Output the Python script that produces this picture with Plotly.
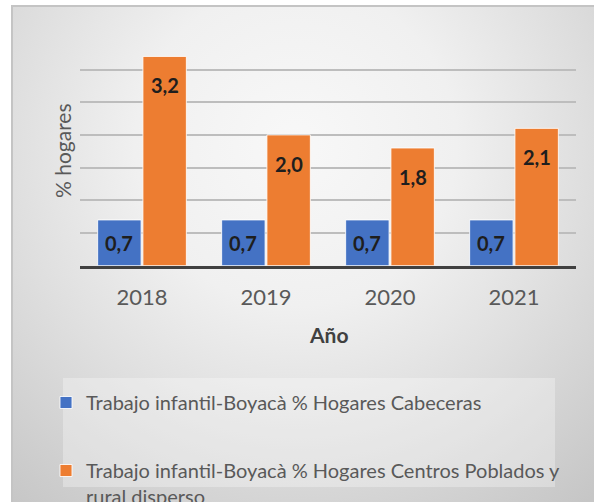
import base64
import plotly.graph_objects as go

# ---- data -------------------------------------------------------------
years = ["2018", "2019", "2020", "2021"]
cabeceras = [0.7, 0.7, 0.7, 0.7]
rural = [3.2, 2.0, 1.8, 2.1]
series_names = [
    "Trabajo infantil-Boyacà % Hogares Cabeceras",
    "Trabajo infantil-Boyacà % Hogares Centros Poblados y<br>rural disperso",
]
series_colors = ["#4472C4", "#ED7D31"]

# ---- page geometry (pixels) -------------------------------------------
W, H = 594, 502
FONT = "Lato"
TEXT_GRAY = "#595959"


def fx(px):
    return px / W


def fy(px):
    return 1 - px / H


# chart area frame with a soft radial gray background
frame_x, frame_y = 11, 5
fw, fh = W - frame_x, H - frame_y
bg_svg = f"""<svg xmlns="http://www.w3.org/2000/svg" width="{fw}" height="{fh}" viewBox="0 0 {fw} {fh}">
<defs>
<radialGradient id="g" gradientUnits="userSpaceOnUse" cx="285" cy="140" r="460">
<stop offset="0" stop-color="#f8f8f8"/>
<stop offset="0.35" stop-color="#f0f0f0"/>
<stop offset="0.62" stop-color="#dfdfdf"/>
<stop offset="1" stop-color="#c6c6c6"/>
</radialGradient>
</defs>
<rect x="0" y="0" width="{fw}" height="{fh}" fill="url(#g)"/>
<path d="M1,{fh} V1 H{fw}" fill="none" stroke="#c4c4c4" stroke-width="2"/>
</svg>"""
bg_uri = "data:image/svg+xml;base64," + base64.b64encode(bg_svg.encode()).decode()

fig = go.Figure()

for name, vals, color in zip(series_names, [cabeceras, rural], series_colors):
    fig.add_trace(
        go.Bar(
            x=years,
            y=vals,
            name=name,
            legendgroup=name,
            marker=dict(color=color, line=dict(color="rgba(255,255,255,0.85)", width=1)),
            hoverinfo="skip",
        )
    )

# value labels placed inside the top of each bar
BARGAP = 0.27
slot = (1 - BARGAP) / 2
label_offset = 0.44
annotations = []
for k, vals in enumerate([cabeceras, rural]):
    dx = (k - 0.5) * slot
    for i, v in enumerate(vals):
        annotations.append(
            dict(
                x=i + dx,
                y=v - min(label_offset, v / 2),
                xref="x",
                yref="y",
                text=f"{v:.1f}".replace(".", ","),
                showarrow=False,
                xanchor="center",
                yanchor="middle",
                font=dict(family=FONT, size=20, color="#1e1e1e", weight="bold"),
            )
        )

annotations.append(
    dict(
        x=fx(328), y=fy(334), xref="paper", yref="paper",
        text="Año", showarrow=False, xanchor="center", yanchor="middle",
        font=dict(family=FONT, size=21, color="#404040", weight="bold"),
    )
)
annotations.append(
    dict(
        x=fx(63), y=fy(151), xref="paper", yref="paper",
        text="% hogares", showarrow=False, textangle=-90,
        xanchor="center", yanchor="middle",
        font=dict(family=FONT, size=21, color=TEXT_GRAY),
    )
)

fig.update_layout(
    width=W,
    height=H,
    autosize=False,
    margin=dict(l=0, r=0, t=0, b=0, autoexpand=False),
    paper_bgcolor="white",
    plot_bgcolor="rgba(0,0,0,0)",
    barmode="group",
    bargap=BARGAP,
    bargroupgap=0.04,
    font=dict(family=FONT, color=TEXT_GRAY),
    xaxis=dict(
        domain=[fx(80), fx(576)],
        showline=True,
        linecolor="#404040",
        linewidth=3,
        showgrid=False,
        ticks="",
        tickfont=dict(family=FONT, size=22, color=TEXT_GRAY),
        ticklabelstandoff=10,
        fixedrange=True,
    ),
    yaxis=dict(
        domain=[fy(265.7), fy(36.8)],
        range=[0, 3.5],
        tick0=0,
        dtick=0.5,
        showgrid=True,
        gridcolor="#bdbdbd",
        gridwidth=1.5,
        zeroline=False,
        showticklabels=False,
        fixedrange=True,
    ),
    legend=dict(
        x=fx(46),
        y=fy(383),
        xanchor="left",
        yanchor="top",
        orientation="v",
        bgcolor="rgba(0,0,0,0)",
        font=dict(family=FONT, size=20, color=TEXT_GRAY),
        tracegroupgap=39,
        valign="top",
        itemclick=False,
        itemdoubleclick=False,
    ),
    images=[
        dict(
            source=bg_uri,
            xref="paper", yref="paper",
            x=fx(frame_x), y=fy(frame_y),
            sizex=fw / W, sizey=fh / H,
            xanchor="left", yanchor="top",
            sizing="stretch",
            layer="below",
        )
    ],
    shapes=[
        dict(
            type="rect", xref="paper", yref="paper",
            x0=fx(63), x1=fx(555), y0=fy(487), y1=fy(378),
            fillcolor="rgba(255,255,255,0.3)", line=dict(width=0),
            layer="below",
        )
    ],
    annotations=annotations,
)

fig.write_html("out.html", config={"displayModeBar": False})
